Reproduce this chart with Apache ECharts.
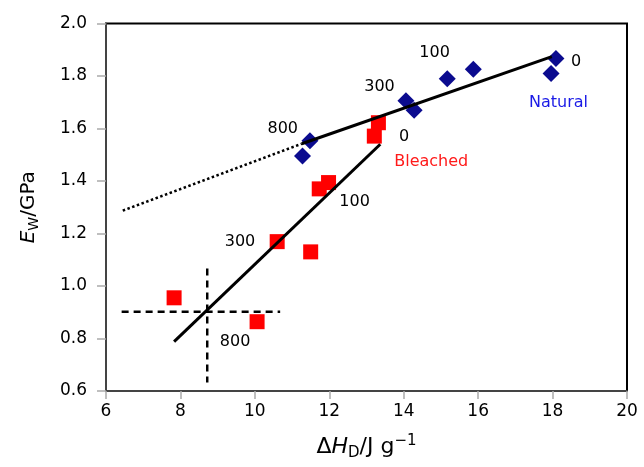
<!DOCTYPE html>
<html><head><meta charset="utf-8">
<script src="https://cdn.jsdelivr.net/npm/echarts@6/dist/echarts.min.js"></script>
<style>html,body{margin:0;padding:0;background:#fff}#c{width:644px;height:467px}</style>
</head><body><div id="c"></div>
<script>
// Natural (blue diamonds)
const naturalX = [18.09, 17.96, 15.87, 15.17, 14.06, 14.28, 11.48, 11.28];
const naturalY = [1.867, 1.81, 1.826, 1.79, 1.706, 1.67, 1.553, 1.495];
// Bleached (red squares)
const bleachedX = [13.32, 13.21, 11.98, 11.73, 10.6, 11.5, 7.83, 10.06];
const bleachedY = [1.622, 1.571, 1.394, 1.37, 1.169, 1.13, 0.955, 0.864];
// fit lines
const naturalFitX = [11.26, 17.98];
const naturalFitY = [1.542, 1.874];
const extrapX = [6.45, 11.26];
const extrapY = [1.287, 1.542];
const bleachedFitX = [7.83, 13.37];
const bleachedFitY = [0.788, 1.54];
// dashed cross
const crossHX = [6.42, 10.68];
const crossHY = [0.902, 0.902];
const crossVX = [8.72, 8.72];
const crossVY = [1.067, 0.632];
// annotations
const natLabX = [18.63, 14.83, 13.35, 10.75];
const natLabY = [1.855, 1.889, 1.76, 1.597];
const natLabT = ['0', '100', '300', '800'];
const bleLabX = [14.01, 12.68, 9.6, 9.47];
const bleLabY = [1.569, 1.321, 1.169, 0.788];
const bleLabT = ['0', '100', '300', '800'];
const seriesNameX = [18.16, 14.74];
const seriesNameY = [1.696, 1.474];
const seriesNameT = ['Natural', 'Bleached'];
const seriesNameC = ['#1a1ae6', '#ff1a1a'];
// ticks
const xTicks = [6, 8, 10, 12, 14, 16, 18, 20];
const yTicks = [0.6, 0.8, 1.0, 1.2, 1.4, 1.6, 1.8, 2.0];

const zip = (xs, ys) => xs.map((x, i) => [x, ys[i]]);
const FONT = '"DejaVu Sans", Arial, sans-serif';

const chart = echarts.init(document.getElementById('c'), null, {renderer: 'canvas'});
const lineS = (xs, ys, type, w) => ({
  type: 'line', data: zip(xs, ys), symbol: 'none', silent: true, z: 3,
  lineStyle: {color: '#000', width: w, type: type}
});
const labS = (xs, ys, ts, colors, size) => ({
  type: 'scatter', symbolSize: 0, silent: true, z: 5,
  itemStyle: {opacity: 1},
  data: xs.map((x, i) => ({
    value: [x, ys[i]], name: ts[i],
    label: {show: true, position: 'inside', formatter: ts[i],
      color: Array.isArray(colors) ? colors[i] : colors, fontSize: size, fontFamily: FONT}
  }))
});
chart.setOption({
  animation: false,
  grid: {left: 106, right: 17, top: 23.5, bottom: 76, show: true, borderColor: '#000', borderWidth: 2, containLabel: false},
  xAxis: {
    type: 'value', min: xTicks[0], max: xTicks[xTicks.length - 1], interval: 2,
    splitLine: {show: false},
    axisLine: {lineStyle: {color: '#444', width: 2}},
    axisTick: {length: 8, lineStyle: {color: '#aaa', width: 1.5}},
    axisLabel: {color: '#000', fontSize: 17, fontFamily: FONT, margin: 12},
    name: '{n|Δ}{i|H}{s|D}{n|/J g}{p|−1}', nameLocation: 'middle', nameGap: 43,
    nameTextStyle: {rich: {
      n: {fontSize: 22, fontFamily: FONT, color: '#000'},
      i: {fontSize: 22, fontFamily: FONT, fontStyle: 'italic', color: '#000'},
      s: {fontSize: 15, fontFamily: FONT, color: '#000', verticalAlign: 'bottom', padding: [12, 0, 0, 0]},
      p: {fontSize: 15, fontFamily: FONT, color: '#000', verticalAlign: 'top', padding: [0, 0, 12, 0]}
    }}
  },
  yAxis: {
    type: 'value', min: yTicks[0], max: yTicks[yTicks.length - 1], interval: 0.2,
    splitLine: {show: false},
    axisLine: {show: true, lineStyle: {color: '#444', width: 2}},
    axisTick: {show: true, length: 9, lineStyle: {color: '#aaa', width: 1.5}},
    axisLabel: {color: '#000', fontSize: 17, fontFamily: FONT, margin: 19, formatter: v => v.toFixed(1)},
    name: '{i|E}{s|W}{n|/GPa}', nameLocation: 'middle', nameGap: 65, nameRotate: 90,
    nameTextStyle: {rich: {
      n: {fontSize: 20, fontFamily: FONT, color: '#000'},
      i: {fontSize: 20, fontFamily: FONT, fontStyle: 'italic', color: '#000'},
      s: {fontSize: 14, fontFamily: FONT, color: '#000', verticalAlign: 'bottom', padding: [10, 0, 0, 0]}
    }}
  },
  series: [
    lineS(extrapX, extrapY, 'dotted', 2.5),
    lineS(crossHX, crossHY, [7, 5], 2.5),
    lineS(crossVX, crossVY, [7, 5], 2.5),
    {type: 'scatter', data: zip(naturalX, naturalY), symbol: 'diamond', symbolSize: 17, z: 2,
      itemStyle: {color: '#0b0b8f', opacity: 1}},
    {type: 'scatter', data: zip(bleachedX, bleachedY), symbol: 'rect', symbolSize: 15, z: 2,
      itemStyle: {color: '#ff0000', opacity: 1}},
    lineS(naturalFitX, naturalFitY, 'solid', 3),
    lineS(bleachedFitX, bleachedFitY, 'solid', 3),
    labS(natLabX, natLabY, natLabT, '#000', 16),
    labS(bleLabX, bleLabY, bleLabT, '#000', 16),
    labS(seriesNameX, seriesNameY, seriesNameT, seriesNameC, 16)
  ]
});
</script></body></html>
